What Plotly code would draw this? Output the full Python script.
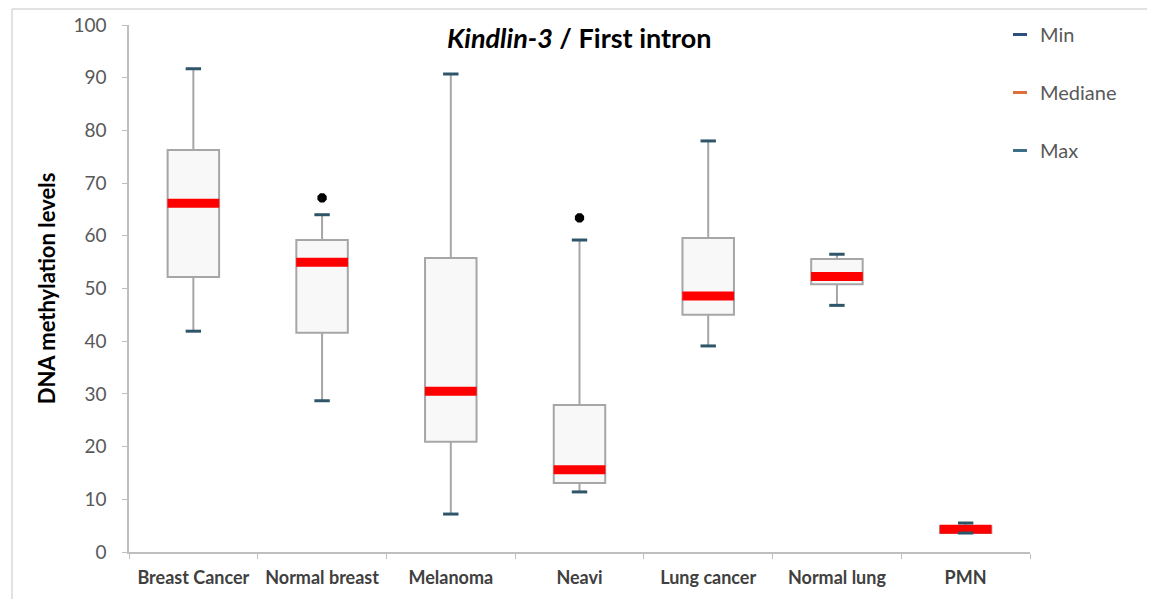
import plotly.graph_objects as go

categories = ["Breast Cancer", "Normal breast", "Melanoma", "Neavi",
              "Lung cancer", "Normal lung", "PMN"]
min_vals = [41.9, 28.7, 7.2, 11.4, 39.1, 46.8, 3.6]
q1_vals = [52.2, 41.6, 20.9, 13.1, 45.0, 50.8, 3.6]
median_vals = [66.2, 55.0, 30.5, 15.6, 48.6, 52.3, 4.3]
q3_vals = [76.3, 59.2, 55.8, 27.9, 59.6, 55.6, 4.9]
max_vals = [91.7, 64.0, 90.7, 59.2, 78.0, 56.5, 5.5]
outlier_cats = ["Normal breast", "Neavi"]
outlier_vals = [67.2, 63.4]

FONT = "Lato"
OFF = 8  # default page body margin
W, H = 1155 - OFF, 599 - OFF
ML, MR, MT, MB = 129 - OFF, 125, 25 - OFF, 47
PW, PH = W - ML - MR, H - MT - MB

fig = go.Figure()

fig.add_trace(go.Box(
    x=categories, q1=q1_vals, median=median_vals, q3=q3_vals,
    lowerfence=min_vals, upperfence=max_vals,
    fillcolor="#F8F8F8", line=dict(color="#A6A6A6", width=2),
    whiskerwidth=0, width=0.4, boxpoints=False, showlegend=False,
    hoverinfo="skip",
))

fig.add_trace(go.Scatter(
    x=categories, y=median_vals, mode="markers", showlegend=False,
    marker=dict(symbol="line-ew", size=37, color="#FF0000",
                line=dict(color="#FF0000", width=9)),
))
cap = "#2E5668"
for vals in (min_vals, max_vals):
    fig.add_trace(go.Scatter(
        x=categories, y=vals, mode="markers", showlegend=False,
        marker=dict(symbol="line-ew", size=11, color=cap,
                    line=dict(color=cap, width=3)),
    ))
fig.add_trace(go.Scatter(
    x=outlier_cats, y=outlier_vals, mode="markers", showlegend=False,
    marker=dict(symbol="octagon", size=10, color="#000000"),
))

legend_items = [("Min", "#2F4D80"), ("Mediane", "#E0703A"), ("Max", "#3C6E86")]
for name, col in legend_items:
    fig.add_trace(go.Scatter(
        x=[None], y=[None], mode="markers", name=name, legendgroup=name,
        marker=dict(symbol="line-ew", size=10, color=col,
                    line=dict(color=col, width=3)),
    ))

fig.add_annotation(
    x=0.5, y=(PH - 13) / PH, xref="paper", yref="paper",
    text="<b><i>Kindlin-3</i> / First intron</b>", showarrow=False,
    font=dict(family=FONT, size=27, color="#000000"),
    xanchor="center", yanchor="middle",
)

# light frame around the figure
fx0 = (12 - 129) / PW
fy1 = (PH + MT - 1) / PH
fig.add_shape(type="line", xref="paper", yref="paper", x0=fx0, x1=(W - ML) / PW,
              y0=fy1, y1=fy1, line=dict(color="#D9D9D9", width=1.5))
fig.add_shape(type="line", xref="paper", yref="paper", x0=fx0, x1=fx0,
              y0=fy1, y1=-MB / PH, line=dict(color="#D9D9D9", width=1.5))

fig.update_layout(
    width=W, height=H,
    margin=dict(l=ML, r=MR, t=MT, b=MB, autoexpand=False),
    paper_bgcolor="white", plot_bgcolor="white",
    font=dict(family=FONT),
    legend=dict(
        x=(1000 - 129) / PW, y=1.019, xanchor="left", yanchor="top",
        traceorder="grouped", tracegroupgap=29,
        font=dict(family=FONT, size=20, color="#595959"),
        bgcolor="rgba(0,0,0,0)",
    ),
    xaxis=dict(
        type="category", categoryorder="array", categoryarray=categories,
        range=[-0.5, len(categories) - 0.5],
        showline=True, linecolor="#BFBFBF", linewidth=1.5,
        ticks="outside", ticklen=5, tickcolor="#BFBFBF", tickson="boundaries",
        showgrid=False, zeroline=False, automargin=False,
        tickfont=dict(family=FONT, size=18, color="#404040", weight="bold"),
        ticklabelstandoff=9,
    ),
    yaxis=dict(
        range=[0, 100], tickvals=list(range(0, 101, 10)),
        showline=True, linecolor="#BFBFBF", linewidth=1.5,
        ticks="outside", ticklen=5, tickcolor="#BFBFBF",
        showgrid=False, zeroline=False, automargin=False,
        tickfont=dict(family=FONT, size=19, color="#595959"),
        ticklabelstandoff=12,
        title=dict(text="<b>DNA methylation levels</b>", standoff=12,
                   font=dict(family=FONT, size=22, color="#000000")),
    ),
)

fig.write_html("out.html")
